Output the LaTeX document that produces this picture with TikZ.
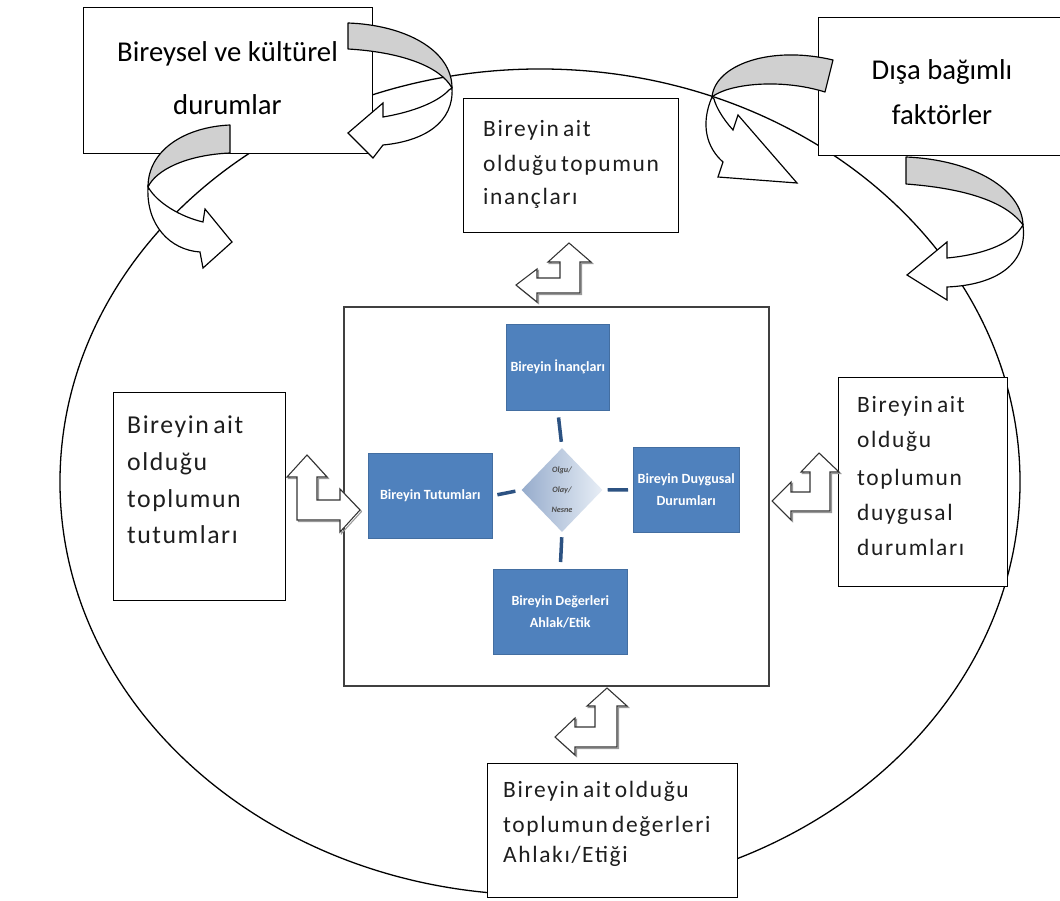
\documentclass[tikz,border=0pt]{standalone}
\usepackage{fontspec}
\setmainfont{Carlito}
\newfontfamily\spacedfont{Carlito}[LetterSpace=7,WordSpace=0.6]
\newfontfamily\widefont{Carlito}[LetterSpace=6,WordSpace=0.6]
\usetikzlibrary{shapes.geometric}
\definecolor{ribbon}{RGB}{208,208,208}
\definecolor{tileblue}{RGB}{79,129,189}
\definecolor{dashblue}{RGB}{44,82,130}
\definecolor{diaL}{RGB}{150,172,204}
\definecolor{diaR}{RGB}{232,238,246}
\definecolor{inktext}{RGB}{30,30,30}

\begin{document}
\begin{tikzpicture}[x=0.03cm,y=-0.03cm,
  rect/.style n args={2}{minimum width=#1*0.03cm, minimum height=#2*0.03cm},
  frame/.style={draw=black, line width=1.1pt, fill=white, inner sep=0pt, anchor=north west},
  hub/.style={draw=black!75, line width=1.6pt, fill=white, inner sep=0pt, anchor=north west},
  tile/.style={fill=tileblue, draw=tileblue!85!black, line width=0.4pt, inner sep=0pt, anchor=north west,
    text=white, align=center, font=\bfseries\fontsize{12}{19}\selectfont},
  link/.style={draw=dashblue, line width=3pt},
  bigtxt/.style={font=\fontsize{24.5}{24.5}\selectfont, text=black, inner sep=0pt, anchor=base},
  smalltxt/.style={font=\spacedfont\fontsize{20}{20}\selectfont, text=inktext, inner sep=0pt, anchor=base west},
  midtxt/.style={font=\widefont\fontsize{22}{22}\selectfont, text=inktext, inner sep=0pt, anchor=base west},
  band/.style={fill=ribbon, draw=black, line width=1pt, line join=round},
  sweep/.style={fill=white, draw=black, line width=1pt, line join=miter},
  bent/.style={fill=white, draw=black!80, line width=0.9pt, line join=miter},
  bentshade/.style={draw=black!40, line width=0.9pt, line join=miter},
]
\useasboundingbox (0,0) rectangle (1060,901);
\clip (0,0) rectangle (1060,901);
\fill[white] (0,0) rectangle (1060,901);

% outer loop
\coordinate (loopc) at (540,482);
\draw[line width=1.1pt] (loopc) ellipse [x radius=14.4cm, y radius=12.39cm];

% outer text boxes
\node[frame, rect={289}{146}] (bk) at (83,7) {};
\node[bigtxt] (bk1) at (227.5,62) {Bireysel ve kültürel};
\node[bigtxt] (bk2) at (227.5,115) {durumlar};

\node[frame, rect={248}{138}] (df) at (818,17) {};
\node[bigtxt] (df1) at (942,80) {Dışa bağımlı};
\node[bigtxt] (df2) at (942,125) {faktörler};

\node[frame, rect={215}{134}] (inc) at (463,98) {};
\node[smalltxt] (inc1) at (483,137) {Bireyin ait};
\node[smalltxt] (inc2) at (483,172) {olduğu topumun};
\node[smalltxt] (inc3) at (483,205) {inançları};

\node[frame, rect={172}{208}] (tut) at (113,392) {};
\node[midtxt] (tut1) at (127,433) {Bireyin ait};
\node[midtxt] (tut2) at (127,470) {olduğu};
\node[midtxt] (tut3) at (127,507) {toplumun};
\node[midtxt] (tut4) at (127,543) {tutumları};

\node[frame, rect={169}{209}] (duy) at (838,377) {};
\node[smalltxt] (duy1) at (857,412) {Bireyin ait};
\node[smalltxt] (duy2) at (857,447) {olduğu};
\node[smalltxt] (duy3) at (857,485) {toplumun};
\node[smalltxt] (duy4) at (857,520) {duygusal};
\node[smalltxt] (duy5) at (857,555) {durumları};

\node[frame, rect={250}{134}] (deg) at (487,763) {};
\node[smalltxt] (deg1) at (503,797) {Bireyin ait olduğu};
\node[smalltxt] (deg2) at (503,832) {toplumun değerleri};
\node[smalltxt] (deg3) at (503,862) {Ahlakı/Etiği};

% central panel
\node[hub, rect={425}{379}] (hub) at (343,306) {};
\node[tile, rect={103}{86}] (tA) at (506,324) {Bireyin İnançları};
\node[tile, rect={124}{85}] (tB) at (368,453) {Bireyin Tutumları};
\node[tile, rect={106}{85}] (tC) at (633,447) {Bireyin Duygusal\\Durumları};
\node[tile, rect={134}{85}] (tD) at (493,569) {Bireyin Değerleri\\Ahlak/Etik};
\node[diamond, minimum width=81*0.03cm, minimum height=84*0.03cm, inner sep=0pt,
  left color=diaL, right color=diaR, draw=none, text=black!70,
  font=\bfseries\itshape\fontsize{7}{17}\selectfont, align=center] (core) at (562,490) {Olgu/\\Olay/\\Nesne};
\draw[link, shorten <=7*0.03cm, shorten >=6*0.03cm] (tA.south) -- (core.north);
\draw[link, shorten <=5*0.03cm, shorten >=6*0.03cm] (tB.east) -- (core.west);
\draw[link, shorten <=5*0.03cm, shorten >=5*0.03cm] (core.east) -- (tC.west);
\draw[link, shorten <=5*0.03cm, shorten >=7*0.03cm] (core.south) -- (tD.north);

% bent double-headed block arrows
\newcommand\bentTop{(516,285) -- (537,269) -- (537,278) -- (560,278) -- (560,262) -- (548,262) -- (569,243) -- (591,262) -- (580,262) -- (580,293) -- (537,293) -- (537,302) -- cycle}
\newcommand\bentBottom{(555,737) -- (575,718) -- (575,727) -- (595,727) -- (595,706) -- (587,706) -- (607,688) -- (627,706) -- (617,706) -- (617,747) -- (575,747) -- (575,755) -- cycle}
\newcommand\bentRight{(772,501) -- (791,482) -- (791,492) -- (810,492) -- (810,472) -- (801,472) -- (819,453) -- (839,472) -- (830,472) -- (830,511) -- (791,511) -- (791,520) -- cycle}
\newcommand\bentLeft{(307,455) -- (327,477) -- (317,477) -- (317,500) -- (340,500) -- (340,489) -- (360,510) -- (340,532) -- (340,520) -- (297,520) -- (297,477) -- (287,477) -- cycle}
\begin{scope}[shift={(1.5,1.5)}]
  \draw[bentshade] \bentTop; \draw[bentshade] \bentBottom;
  \draw[bentshade] \bentRight; \draw[bentshade] \bentLeft;
\end{scope}
\draw[bent] \bentTop;
\draw[bent] \bentBottom;
\draw[bent] \bentRight;
\draw[bent] \bentLeft;

% curved ribbon arrows
% upper left, turning back into the first box
\draw[band] (348,23) .. controls (405,25) and (452,50) .. (452,88)
  .. controls (440,66) and (400,52) .. (348,49) -- cycle;
\draw[sweep] (452,88) .. controls (454,122) and (425,141) .. (383,145)
  -- (373,158) -- (348,133) -- (383,103) -- (383,117)
  .. controls (413,112) and (438,102) .. (449,90) -- cycle;
% lower left, leaving the first box
\draw[band] (230,125) .. controls (185,127) and (148,150) .. (148,187)
  .. controls (156,170) and (186,155) .. (230,153) -- cycle;
\draw[sweep] (148,187) .. controls (146,225) and (170,250) .. (200,252)
  -- (203,268) -- (232,242) -- (205,209) -- (203,222)
  .. controls (178,216) and (158,202) .. (150,190) -- cycle;
% upper right, left of the second box
\draw[band] (833,60) .. controls (770,45) and (715,65) .. (712,97)
  .. controls (728,84) and (780,78) .. (825,92) -- cycle;
\draw[sweep] (712,97) .. controls (700,125) and (707,148) .. (723,162)
  -- (718,177) -- (797,183) -- (738,115) -- (733,130)
  .. controls (723,119) and (716,107) .. (714,99) -- cycle;
% lower right, below the second box
\draw[band] (906,157) .. controls (975,160) and (1022,190) .. (1023,225)
  .. controls (1005,200) and (960,188) .. (906,184) -- cycle;
\draw[sweep] (1023,225) .. controls (1028,265) and (995,285) .. (947,287)
  -- (947,300) -- (907,275) -- (947,242) -- (947,258)
  .. controls (980,255) and (1010,245) .. (1021,228) -- cycle;
\end{tikzpicture}
\end{document}
